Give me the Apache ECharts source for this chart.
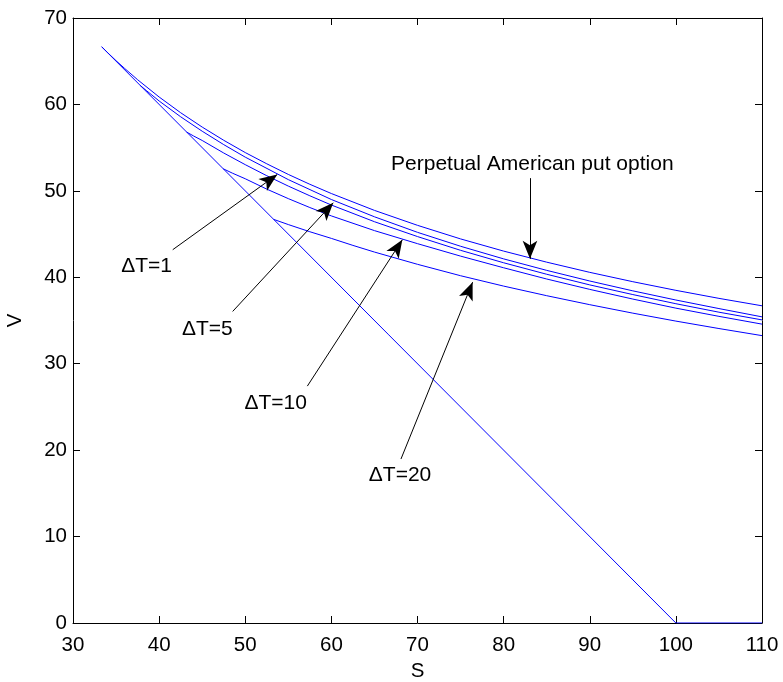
<!DOCTYPE html>
<html>
<head>
<meta charset="utf-8">
<script src="https://cdn.jsdelivr.net/npm/echarts@6/dist/echarts.min.js"></script>
<style>html,body{margin:0;padding:0;background:#fff}#c{width:783px;height:682px}</style>
</head>
<body>
<div id="c"></div>
<script>
// ---- data ----
const payoff = [[33.33, 66.67], [100, 0], [110, 0]];
const perpetual = [[33.33,66.67],[34,66.01],[35,65.06],[36,64.16],[37.5,62.86],[40,60.86],[42.5,59.04],[45,57.38],[47.5,55.85],[50,54.43],[52.5,53.13],[55,51.90],[57.5,50.76],[60,49.69],[65,47.74],[70,46.01],[75,44.44],[80,43.03],[85,41.75],[90,40.57],[95,39.49],[100,38.49],[105,37.56],[110,36.70]];
const dT1 = [[37.8,62.2],[38.5,61.62],[40,60.4],[42.5,58.57],[45,56.9],[47.5,55.35],[50,53.9],[55,51.3],[60,49.0],[65,47.0],[70,45.2],[75,43.59],[80,42.13],[85,40.8],[90,39.57],[95,38.43],[100,37.37],[105,36.38],[110,35.42]];
const dT5 = [[43.2,56.8],[44,56.35],[45,55.83],[47.5,54.38],[50,53.03],[52.5,51.75],[55,50.55],[57.5,49.43],[60,48.36],[65,46.43],[70,44.71],[75,43.12],[80,41.68],[85,40.35],[90,39.12],[95,38.0],[100,36.94],[105,35.96],[110,35.07]];
const dT10 = [[47.45,52.55],[48.5,52.05],[50,51.4],[52.5,50.2],[55,49.1],[57.5,48.07],[60,47.1],[65,45.4],[70,43.89],[75,42.45],[80,41.1],[85,39.8],[90,38.6],[95,37.48],[100,36.43],[105,35.48],[110,34.58]];
const dT20 = [[53.3,46.7],[55,46.1],[57.5,45.27],[60,44.5],[62.5,43.69],[65,42.92],[70,41.5],[75,40.18],[80,38.98],[85,37.87],[90,36.83],[95,35.85],[100,34.93],[105,34.07],[110,33.25]];
const xTicks = {min: 30, max: 110, interval: 10};
const yTicks = {min: 0, max: 70, interval: 10};
// annotations
const annTexts = ['ΔT=1', 'ΔT=5', 'ΔT=10', 'ΔT=20', 'Perpetual American put option'];
const annTextPos = [[38.55, 41.24], [45.6, 34.05], [53.53, 25.45], [67.97, 17.08], [83.33, 53.13]];
const arrowTails = [[41.58, 43.19], [48.54, 36.05], [57.21, 27.41], [68.08, 18.97], [83.06, 51.47]];
const arrowHeads = [[53.72, 51.9], [60.22, 48.62], [68.24, 44.34], [76.4, 39.44], [83.06, 42.14]];

const FONT = "'Liberation Sans', Arial, sans-serif";
const FS = 20.5;
const FS_ANN = 21;
const blue = '#0000ff';

const chart = echarts.init(document.getElementById('c'), null, {renderer: 'canvas'});

function lineSeries(name, data) {
  return {
    name, type: 'line', data, showSymbol: false, symbol: 'none', smooth: false,
    lineStyle: {color: blue, width: 1}, itemStyle: {color: blue},
    silent: true, animation: false, z: 3
  };
}

const axisCommon = {
  axisLine: {show: true, onZero: false, lineStyle: {color: '#000', width: 1}},
  axisTick: {show: true, inside: true, length: 7, lineStyle: {color: '#000', width: 1}},
  splitLine: {show: false}
};

const dt20Series = lineSeries('dT20', dT20);
dt20Series.markLine = {
  silent: true, animation: false,
  symbol: ['none', 'arrow'], symbolSize: [11, 18],
  lineStyle: {color: '#000', width: 1, type: 'solid'},
  itemStyle: {color: '#000'},
  label: {show: false},
  emphasis: {disabled: true},
  data: arrowTails.map((t, i) => [{coord: t}, {coord: arrowHeads[i]}])
};
dt20Series.markPoint = {
  silent: true, animation: false,
  symbol: 'circle', symbolSize: 0,
  itemStyle: {color: 'rgba(0,0,0,0)'},
  label: {show: true, position: 'inside', color: '#000', fontSize: FS_ANN, fontFamily: FONT, formatter: p => p.name},
  emphasis: {disabled: true},
  data: annTextPos.map((p, i) => ({name: annTexts[i], coord: p}))
};

chart.setOption({
  animation: false,
  backgroundColor: '#fff',
  textStyle: {fontFamily: FONT},
  grid: {left: 73, right: 21, top: 18, bottom: 59, containLabel: false, outerBoundsMode: 'none'},
  xAxis: [
    Object.assign({
      type: 'value', position: 'bottom', min: xTicks.min, max: xTicks.max, interval: xTicks.interval,
      name: 'S', nameLocation: 'middle', nameGap: 34,
      nameTextStyle: {color: '#000', fontSize: FS, fontFamily: FONT},
      axisLabel: {color: '#000', fontSize: FS, fontFamily: FONT, margin: 12}
    }, axisCommon),
    Object.assign({
      type: 'value', position: 'top', min: xTicks.min, max: xTicks.max, interval: xTicks.interval,
      axisLabel: {show: false}
    }, axisCommon)
  ],
  yAxis: [
    Object.assign({
      type: 'value', position: 'left', min: yTicks.min, max: yTicks.max, interval: yTicks.interval,
      name: 'V', nameLocation: 'middle', nameGap: 47, nameRotate: 90,
      nameTextStyle: {color: '#000', fontSize: FS, fontFamily: FONT},
      axisLabel: {color: '#000', fontSize: FS, fontFamily: FONT, margin: 6}
    }, axisCommon),
    Object.assign({
      type: 'value', position: 'right', min: yTicks.min, max: yTicks.max, interval: yTicks.interval,
      axisLabel: {show: false}
    }, axisCommon)
  ],
  series: [
    lineSeries('payoff', payoff),
    lineSeries('perpetual', perpetual),
    lineSeries('dT1', dT1),
    lineSeries('dT5', dT5),
    lineSeries('dT10', dT10),
    dt20Series
  ]
});
</script>
</body>
</html>
